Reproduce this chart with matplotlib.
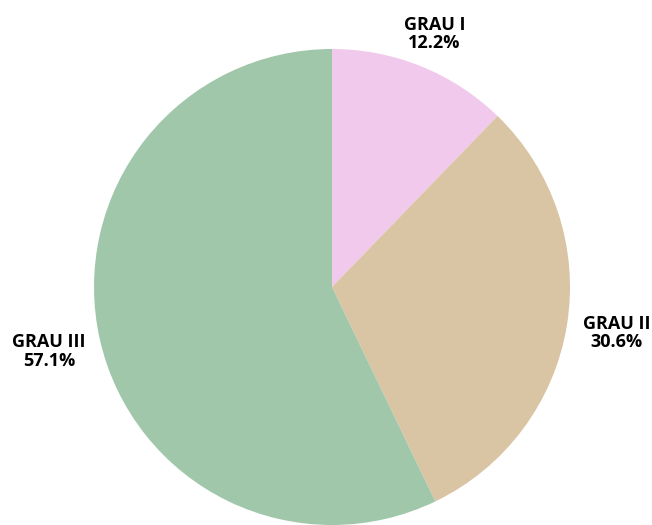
import matplotlib.pyplot as plt
import numpy as np

# grade counts (6/49, 15/49, 28/49 -> 12.2%, 30.6%, 57.1%)
labels = ["GRAU I", "GRAU II", "GRAU III"]
counts = [6, 15, 28]
colors = ["#f0c9ec", "#d9c4a4", "#a0c7aa"]

plt.rcParams['font.family'] = ['Open Sans', 'DejaVu Sans']

fig = plt.figure(figsize=(6.52, 5.25), dpi=100)
ax = fig.add_axes([0, 0, 1, 1])

cx, cy, r = 332, 238, 238
wedges, _ = ax.pie(counts, colors=colors, startangle=90, counterclock=False,
                   center=(cx, cy), radius=r, frame=True,
                   wedgeprops={'linewidth': 0})
ax.set_xlim(0, 652)
ax.set_ylim(0, 525)
ax.set_aspect('equal')
ax.axis('off')

total = sum(counts)
dists = [1.147, 1.21, 1.22]
for w, lab, c, d in zip(wedges, labels, counts, dists):
    ang = np.deg2rad((w.theta1 + w.theta2) / 2)
    x = cx + r * d * np.cos(ang)
    y = cy + r * d * np.sin(ang)
    ax.text(x, y, "%s\n%.1f%%" % (lab, 100 * c / total), ha='center', va='center',
            fontsize=13, fontweight='bold', linespacing=1.05, color='black')

fig.savefig("out.png", dpi=100)
